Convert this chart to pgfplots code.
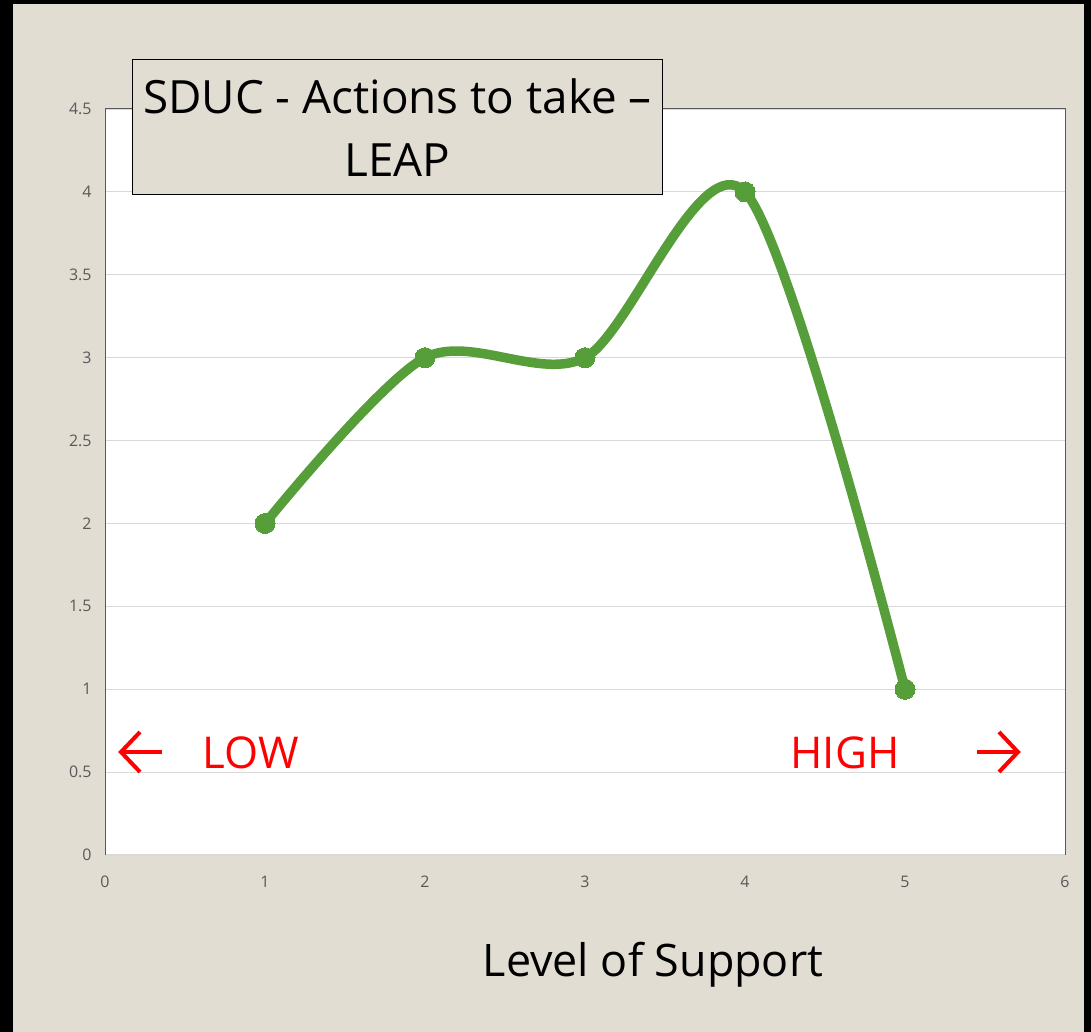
\documentclass[border=0pt]{standalone}
\usepackage{pgfplots}
\pgfplotsset{compat=1.18}
\usepackage{fontspec}
\setmainfont{Open Sans}
\definecolor{bg}{RGB}{226,221,210}
\definecolor{lgreen}{RGB}{86,158,58}
\definecolor{tickgray}{RGB}{89,89,89}
\definecolor{gridgray}{RGB}{217,217,217}
\begin{document}
\begin{tikzpicture}[x=1bp,y=1bp]
\useasboundingbox (0,0) rectangle (1091,1032);
\fill[black] (0,0) rectangle (1091,1032);
\fill[bg] (13,0) rectangle (1084,1028);
\begin{axis}[
  at={(105bp,177bp)}, anchor=south west, scale only axis,
  width=960bp, height=746bp,
  xmin=0, xmax=6, ymin=0, ymax=4.5,
  xtick={0,1,...,6}, ytick={0,0.5,...,4.5},
  ymajorgrids, grid style={draw=gridgray, line width=1.2bp},
  axis background/.style={fill=white},
  axis line style={draw=none},
  tick style={draw=none},
  ticklabel style={font=\fontsize{16}{19}\selectfont, text=tickgray},
  /pgf/number format/assume math mode=true,
  yticklabel style={anchor=east, xshift=-10bp},
  xticklabel style={anchor=center, yshift=-27bp},
  clip=false,
]
\draw[tickgray, line width=1bp] (axis cs:0,0) -- (axis cs:0,4.5) -- (axis cs:6,4.5) -- (axis cs:6,0);
\addplot[lgreen, line width=9.5bp, smooth, tension=0.5, mark=*, mark size=10bp, mark options={fill=lgreen, draw=lgreen, line width=0pt}]
  coordinates {(1,2) (2,3) (3,3) (4,4) (5,1)};
\end{axis}
\node[draw=black, line width=1bp, fill=bg, minimum width=529bp, minimum height=135bp, inner sep=0pt, align=center, font=\fontsize{46}{63}\selectfont] at (397.5,904.5) {SDUC - Actions to take –\\LEAP};
\node[font=\fontsize{45}{56}\selectfont] at (653,67) {Level of Support};
\node[red, font=\fontsize{44}{56}\selectfont] at (251,279) {LOW};
\node[red, font=\fontsize{44}{56}\selectfont] at (845,279) {HIGH};
\draw[red, line width=4bp] (121,280) -- (162,280);
\draw[red, line width=4bp] (140,300) -- (121,280) -- (140,260);
\draw[red, line width=4bp] (977,280) -- (1018,280);
\draw[red, line width=4bp] (999,300) -- (1018,280) -- (999,260);
\end{tikzpicture}
\end{document}
